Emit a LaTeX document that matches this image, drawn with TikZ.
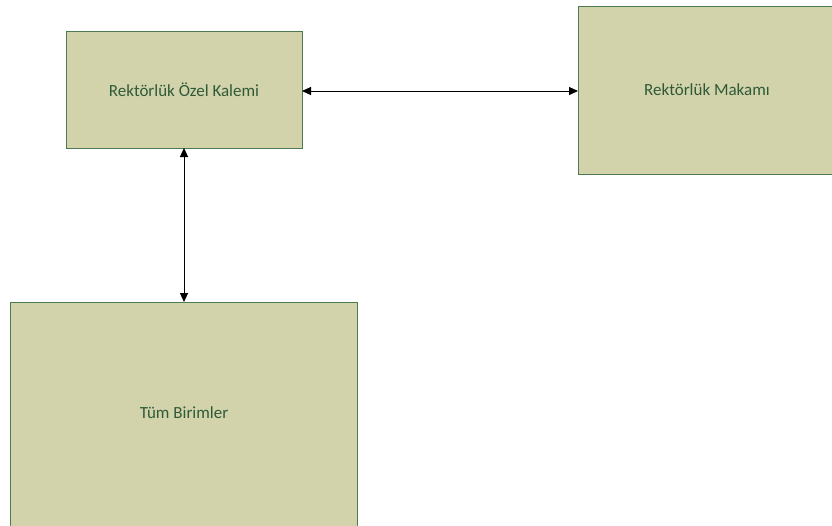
\documentclass[tikz,border=0pt]{standalone}
\usepackage{fontspec}
\setmainfont{Carlito}
\usetikzlibrary{arrows.meta}
\definecolor{boxfill}{HTML}{D2D3AB}
\definecolor{boxline}{HTML}{4E7A52}
\definecolor{boxtext}{HTML}{2F5A38}
\begin{document}
\begin{tikzpicture}[x=1pt,y=-1pt,
  unitbox/.style={draw=boxline,fill=boxfill,line width=1pt,text=boxtext,
    font=\fontsize{17}{20}\selectfont,inner sep=0pt,outer sep=0pt},
  link/.style={line width=1pt,{Triangle[length=9pt,width=8pt]}-{Triangle[length=9pt,width=8pt]}}]
\useasboundingbox (0,0) rectangle (832,525);
\clip (0,0) rectangle (832,525);
\node[unitbox,minimum width=236pt,minimum height=117pt] (ozel) at (184,89.5) {Rektörlük Özel Kalemi};
\node[unitbox,minimum width=258pt,minimum height=168pt] (makam) at (707,90) {Rektörlük Makamı};
\node[unitbox,minimum width=347pt,minimum height=232pt] (tum) at (184,418) {};
\node[text=boxtext,font=\fontsize{17}{20}\selectfont] (tumtext) at (184,413) {Tüm Birimler};
\draw[link] (ozel.east |- 0,91) -- (makam.west |- 0,91);
\draw[link] (ozel.south) -- (tum.north);
\end{tikzpicture}
\end{document}
